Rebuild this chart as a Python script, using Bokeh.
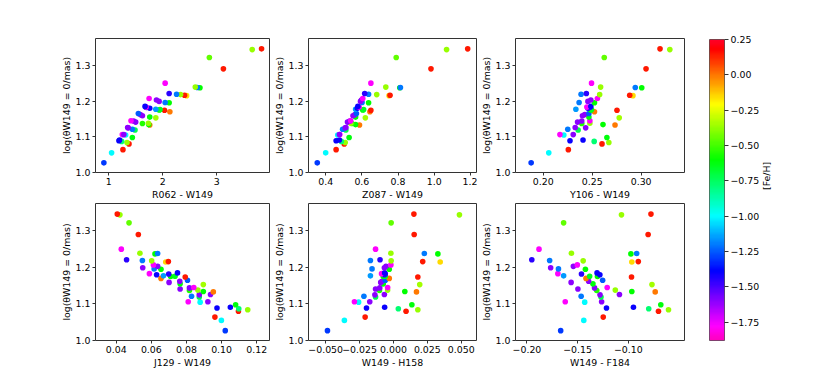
import numpy as np
from bokeh.plotting import figure
from bokeh.models import (ColumnDataSource, LinearColorMapper, Range1d, FixedTicker,
                          CustomJSTickFormatter)
from bokeh.layouts import row, column
from bokeh.embed import file_html
from bokeh.resources import INLINE

# ---------------- data (one entry per star) ----------------
y_theta = [1.027, 1.055, 1.064, 1.080, 1.084, 1.087, 1.089, 1.091, 1.098, 1.105,
           1.106, 1.106, 1.119, 1.121, 1.125, 1.126, 1.133, 1.134, 1.137, 1.138,
           1.141, 1.144, 1.145, 1.153, 1.155, 1.159, 1.162, 1.165, 1.170, 1.174,
           1.175, 1.176, 1.177, 1.180, 1.182, 1.183, 1.185, 1.195, 1.196, 1.199,
           1.203, 1.207, 1.215, 1.216, 1.218, 1.219, 1.221, 1.237, 1.238, 1.239,
           1.250, 1.290, 1.322, 1.344, 1.346]

feh = [-1.30, -1.00, 0.15, 0.15, -0.37, -0.78, -1.40, -1.40, -0.62, -1.00,
       -1.78, -1.60, -0.72, -1.20, -1.60, -1.60, 0.00, -0.60, -0.55, -0.37,
       -1.60, -1.60, -1.78, -0.35, -0.62, -1.60, -1.60, -1.25, 0.00, 0.15,
       -0.60, -0.65, -1.15, -1.40, -1.45, -1.78, -1.40, -0.60, -1.20, -1.60,
       -1.60, -1.78, -0.15, 0.15, -0.37, -1.20, -1.45, -0.60, -1.20, -0.37,
       -1.78, 0.15, -0.45, -0.37, 0.15]

x_r062 = [0.910, 1.053, 1.263, 1.375, 1.338, 1.239, 1.189, 1.200, 1.437, 1.313,
          1.251, 1.280, 1.486, 1.437, 1.360, 1.350, 1.759, 1.740, 1.623, 1.734,
          1.499, 1.462, 1.412, 1.871, 1.759, 1.623, 1.585, 1.548, 2.131, 2.032,
          1.933, 1.950, 1.871, 1.759, 1.697, 1.690, 1.672, 2.118, 2.044, 1.933,
          1.883, 1.747, 2.441, 2.403, 2.329, 2.255, 2.118, 2.688, 2.639, 2.602,
          2.044, 3.122, 2.862, 3.655, 3.828]

x_z087 = [0.3535, 0.400, 0.4577, 0.5026, 0.508, 0.4864, 0.4577, 0.4756, 0.5296, 0.4667,
          0.478, 0.4756, 0.5116, 0.4936, 0.508, 0.512, 0.5871, 0.5655, 0.545, 0.5385,
          0.5206, 0.5331, 0.5385, 0.6194, 0.5655, 0.551, 0.562, 0.570, 0.6445, 0.650,
          0.605, 0.610, 0.5655, 0.575, 0.580, 0.585, 0.578, 0.6373, 0.6014, 0.5925,
          0.598, 0.605, 0.7505, 0.7559, 0.6822, 0.6373, 0.6158, 0.8098, 0.8134, 0.7325,
          0.650, 0.9823, 0.790, 1.0685, 1.1853]

x_y106 = [0.1876, 0.2056, 0.2256, 0.260, 0.267, 0.252, 0.2273, 0.2406, 0.265, 0.221,
          0.217, 0.2306, 0.2356, 0.225, 0.2433, 0.2326, 0.2733, 0.261, 0.2393, 0.2476,
          0.235, 0.2393, 0.2476, 0.2776, 0.2466, 0.240, 0.2423, 0.2466, 0.2523, 0.2753,
          0.2486, 0.2493, 0.2333, 0.2456, 0.2473, 0.2445, 0.2486, 0.2523, 0.2366, 0.2456,
          0.2486, 0.2553, 0.2916, 0.2883, 0.2576, 0.2386, 0.244, 0.3006, 0.294, 0.2586,
          0.2493, 0.305, 0.2623, 0.3293, 0.3193]

x_j129 = [0.1021, 0.0999, 0.0962, 0.1096, 0.1149, 0.1098, 0.0974, 0.1050, 0.1080, 0.0878,
          0.0810, 0.0922, 0.0873, 0.0829, 0.0873, 0.0937, 0.0953, 0.0896, 0.0817, 0.0865,
          0.0764, 0.0817, 0.0842, 0.0896, 0.0764, 0.0701, 0.0762, 0.0806, 0.0655, 0.0793,
          0.0710, 0.0735, 0.0669, 0.0630, 0.0699, 0.0589, 0.0749, 0.0655, 0.0616, 0.0551,
          0.0636, 0.0612, 0.0682, 0.0697, 0.0602, 0.0549, 0.0459, 0.0621, 0.0636, 0.0535,
          0.0429, 0.0526, 0.0473, 0.0421, 0.0406]

x_h158 = [-0.0487, -0.0362, -0.0209, 0.0093, 0.0180, 0.0036, -0.0199, -0.0065, 0.0136, -0.0257,
          -0.0288, -0.0175, -0.0132, -0.0218, -0.0137, -0.0067, 0.0170, 0.0084, -0.0103, -0.0043,
          -0.0132, -0.0101, -0.0043, 0.0194, -0.0075, -0.0094, -0.0084, -0.0060, -0.0031, 0.0180,
          -0.0075, -0.0060, -0.0170, -0.0067, -0.0060, -0.0088, -0.0065, -0.0031, -0.0158, -0.0067,
          -0.0055, -0.0019, 0.0345, 0.0216, -0.0017, -0.0170, -0.0099, 0.0328, 0.0228, -0.0019,
          -0.0132, 0.0153, -0.0017, 0.0487, 0.0151]

x_f184 = [-0.1667, -0.1439, -0.1247, -0.0702, -0.0603, -0.0798, -0.1215, -0.0949, -0.0679, -0.1430,
          -0.1622, -0.1263, -0.1269, -0.1465, -0.1279, -0.1087, -0.0734, -0.0965, -0.1311, -0.1128,
          -0.1497, -0.1333, -0.1208, -0.0766, -0.1349, -0.1564, -0.1391, -0.1253, -0.1417, -0.0968,
          -0.1304, -0.1381, -0.1638, -0.1280, -0.1462, -0.1695, -0.1308, -0.1423, -0.1689, -0.1766,
          -0.1542, -0.1503, -0.0965, -0.0901, -0.1445, -0.1776, -0.1952, -0.0974, -0.0917, -0.1561,
          -0.1881, -0.0804, -0.1638, -0.1067, -0.0776]

x_labels = ["R062 - W149", "Z087 - W149", "Y106 - W149",
            "J129 - W149", "W149 - H158", "W149 - F184"]
x_ticks = [[1, 2, 3], [0.4, 0.6, 0.8, 1.0, 1.2], [0.20, 0.25, 0.30],
           [0.04, 0.06, 0.08, 0.10, 0.12], [-0.05, -0.025, 0.0, 0.025, 0.05],
           [-0.20, -0.15, -0.10]]
x_decimals = [0, 1, 2, 2, 3, 2]
x_ranges = [(0.755, 3.975), (0.305, 1.234), (0.1716, 0.3443),
            (0.0282, 0.1273), (-0.0627, 0.0613), (-0.2113, -0.0445)]
y_ticks = [1.0, 1.1, 1.2, 1.3]
cb_ticks = [-1.75, -1.5, -1.25, -1.0, -0.75, -0.5, -0.25, 0.0, 0.25]
y_label = "log(θW149 = 0/mas)"
cb_label = "[Fe/H]"
VMIN, VMAX = -1.88, 0.25

# ---------------- colormap (gist_rainbow reversed) ----------------
seg = [(0.000, (1.0, 0.0, 0.16)), (0.030, (1.0, 0.0, 0.0)), (0.215, (1.0, 1.0, 0.0)),
       (0.400, (0.0, 1.0, 0.0)), (0.586, (0.0, 1.0, 1.0)), (0.770, (0.0, 0.0, 1.0)),
       (0.954, (1.0, 0.0, 1.0)), (1.000, (1.0, 0.0, 0.75))]
pos = np.array([s[0] for s in seg])
rgb = np.array([s[1] for s in seg])
tt = 1.0 - np.linspace(0, 1, 256)
palette = []
for v in tt:
    c = [int(round(255 * np.interp(v, pos, rgb[:, k]))) for k in range(3)]
    palette.append("#%02x%02x%02x" % tuple(c))
mapper = LinearColorMapper(palette=palette, low=VMIN, high=VMAX)

FONT = "DejaVu Sans"
FS = "9.4px"
EDGE = "#333333"


def style_axis(ax, ticks, dec):
    ax.ticker = FixedTicker(ticks=ticks)
    ax.formatter = CustomJSTickFormatter(
        code="return tick.toFixed(%d).replace('-', '\u2212');" % dec)
    ax.major_label_text_font = FONT
    ax.major_label_text_font_size = FS
    ax.major_label_text_color = "black"
    ax.axis_label_text_font = FONT
    ax.axis_label_text_font_size = FS
    ax.axis_label_text_font_style = "normal"
    ax.axis_label_text_color = "black"
    ax.major_tick_in = 0
    ax.major_tick_out = 3
    ax.major_tick_line_color = EDGE
    ax.minor_tick_line_color = None
    ax.axis_line_color = None
    ax.major_label_standoff = 2
    ax.axis_label_standoff = 1


FRAME_H = 137


def panel(i, ml, fw, mt, mb):
    p = figure(width=ml + fw + 1, height=mt + FRAME_H + mb,
               x_range=Range1d(*x_ranges[i]), y_range=Range1d(1.0, 1.375),
               output_backend="svg", toolbar_location=None,
               min_border_left=ml, min_border_right=1,
               min_border_top=mt, min_border_bottom=mb)
    p.xgrid.visible = False
    p.ygrid.visible = False
    p.outline_line_color = EDGE
    p.outline_line_width = 1
    xs = [x_r062, x_z087, x_y106, x_j129, x_h158, x_f184][i]
    src = ColumnDataSource(dict(x=xs, y=y_theta, feh=feh))
    p.scatter("x", "y", source=src, size=5.6,
              fill_color={"field": "feh", "transform": mapper}, line_color=None)
    style_axis(p.xaxis[0], x_ticks[i], x_decimals[i])
    style_axis(p.yaxis[0], y_ticks, 1)
    p.xaxis[0].axis_label = x_labels[i]
    p.yaxis[0].axis_label = y_label
    return p


top = [panel(0, 95, 174, 38, 27), panel(1, 34, 172, 38, 27), panel(2, 33, 174, 38, 27)]
bot = [panel(3, 95, 174, 1, 30), panel(4, 34, 172, 1, 30), panel(5, 33, 174, 1, 30)]

# ---------------- colorbar ----------------
cb = figure(width=24 + 15 + 65, height=39 + 301 + 10,
            x_range=Range1d(0, 1), y_range=Range1d(VMIN, VMAX),
            output_backend="svg", toolbar_location=None, y_axis_location="right",
            min_border_left=24, min_border_right=65, min_border_top=39, min_border_bottom=10)
cb.xgrid.visible = False
cb.ygrid.visible = False
cb.xaxis.visible = False
grad = np.linspace(VMIN, VMAX, 256).reshape(256, 1)
cb.image(image=[grad], x=0, y=VMIN, dw=1, dh=VMAX - VMIN, color_mapper=mapper)
cb.outline_line_color = "#555555"
cb.outline_line_width = 1
style_axis(cb.yaxis[0], cb_ticks, 2)
cb.yaxis[0].major_tick_out = 4
cb.yaxis[0].axis_label = cb_label
cb.yaxis[0].axis_label_standoff = 4
if "axis_label_orientation" in cb.yaxis[0].properties():
    cb.yaxis[0].axis_label_orientation = float(np.pi / 2)

layout = row(column(row(*top), row(*bot)), cb)

with open("out.html", "w", encoding="utf-8") as f:
    f.write(file_html(layout, INLINE))
